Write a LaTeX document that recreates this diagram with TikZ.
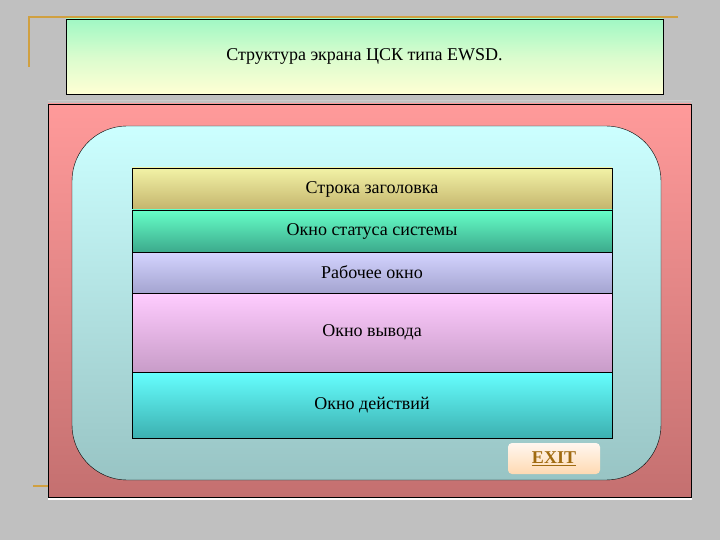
\documentclass[tikz,border=0pt]{standalone}
\usepackage{fontspec}
\setmainfont{Liberation Serif}
\usepackage{tkz-euclide}
\usetikzlibrary{positioning}
\definecolor{bg}{HTML}{C0C0C0}
\definecolor{gold}{HTML}{D0A040}
\definecolor{panelTop}{HTML}{FF9A9A}
\definecolor{panelBottom}{HTML}{C47070}
\definecolor{innerTop}{HTML}{CCFFFF}
\definecolor{innerBottom}{HTML}{98C4C4}
\definecolor{titleTop}{HTML}{A0F8C4}
\definecolor{titleBottom}{HTML}{FFFFD4}
\definecolor{exitText}{HTML}{A06A10}
\definecolor{yellowTop}{HTML}{F2F2A6}
\definecolor{yellowBottom}{HTML}{C4B46C}
\definecolor{greenTop}{HTML}{66FFC8}
\definecolor{greenBottom}{HTML}{3CAA8C}
\definecolor{lilacTop}{HTML}{D4D4FF}
\definecolor{lilacBottom}{HTML}{A4A4D0}
\definecolor{pinkTop}{HTML}{FFCCFF}
\definecolor{pinkBottom}{HTML}{C89CC8}
\definecolor{cyanTop}{HTML}{66FFFF}
\definecolor{cyanBottom}{HTML}{3CB0B0}
\tikzset{>=stealth,
  goldline/.style={gold, line width=2pt},
  stripe/.style={draw=black, minimum width=480pt, inner sep=0pt, outer sep=0pt, font=\fontsize{18}{22}\selectfont},
  titlebox/.style={draw=black, minimum width=597pt, minimum height=75pt, font=\fontsize{18}{22}\selectfont,
    top color=titleTop, bottom color=titleBottom, middle color=titleTop!40!titleBottom},
  exitbtn/.style={rounded corners=4pt, minimum width=92pt, minimum height=31pt, inner sep=0pt,
    top color=orange!6, bottom color=orange!30, text=exitText, font=\fontsize{18}{22}\selectfont\bfseries}}

\begin{document}
\begin{tikzpicture}[x=1pt, y=-1pt]
    \fill[bg] (0,0) rectangle (720,540);
    \useasboundingbox (0,0) rectangle (720,540);
    \tkzDefPoints{29/67/G1, 29/17/G2, 678/17/G3, 33/486/G4, 48/486/G5}
    \draw[goldline] (G1) -- (G2) -- (G3);
    \draw[goldline] (G4) -- (G5);
    \node[titlebox] (heading) at (364.5,56.5) {Структура экрана ЦСК типа EWSD.};
    \draw[gray!40, line width=1.5pt] (48,100.5) -- (692,100.5);
    \draw[white, line width=1.5pt] (48,499) -- (692,499);
    \draw[top color=panelTop, bottom color=panelBottom] (48,104) rectangle (691,497);
    \draw[top color=innerTop, bottom color=innerBottom, rounded corners=55pt] (72,126) rectangle (661,480);
    \node[stripe, anchor=north, minimum height=42pt, top color=yellowTop, bottom color=yellowBottom] (titlebar) at (372,168) {Строка заголовка};
    \node[stripe, below=0pt of titlebar, minimum height=42pt, top color=greenTop, bottom color=greenBottom] (status) {Окно статуса системы};
    \node[stripe, below=0pt of status, minimum height=41pt, top color=lilacTop, bottom color=lilacBottom] (work) {Рабочее окно};
    \node[stripe, below=0pt of work, minimum height=79pt, top color=pinkTop, bottom color=pinkBottom] (output) {Окно вывода};
    \node[stripe, below=0pt of output, minimum height=66pt, top color=cyanTop, bottom color=cyanBottom] (actions) {Окно действий};
    \node[exitbtn] (exit) at (554,458.5) {\underline{EXIT}};
\end{tikzpicture}
\end{document}
